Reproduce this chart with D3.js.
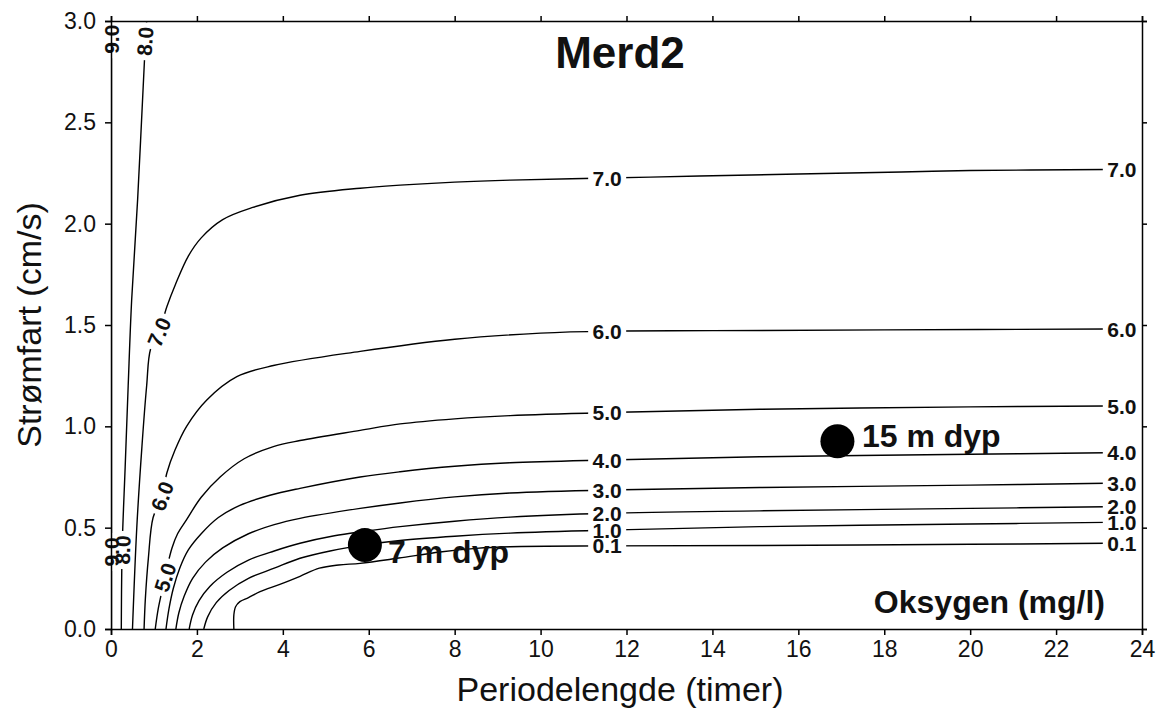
<!DOCTYPE html>
<html>
<head>
<meta charset="utf-8">
<script src="https://cdn.jsdelivr.net/npm/d3@7"></script>
<style>
body { margin: 0; background: #fff; }
text { font-family: "Liberation Sans", Arial, sans-serif; fill: #111; }
</style>
</head>
<body>
<script>
// contour lines, [periodelengde (timer), strømfart (cm/s)]
var c01 = [[2.86,0],[2.86,0.07],[2.9,0.11],[3.0,0.135],[3.2,0.155],[3.47,0.184],[3.93,0.22],[4.4,0.26],[4.85,0.3],[5.3,0.316],[5.8,0.324],[6.7,0.35],[7.66,0.38],[8.5,0.398],[9.29,0.406],[11.55,0.41],[15.1,0.412],[20,0.418],[23.15,0.423]];
var c10 = [[2.16,0],[2.25,0.06],[2.45,0.13],[2.75,0.19],[3.2,0.25],[3.8,0.3],[4.4,0.349],[5.1,0.385],[5.9,0.415],[6.73,0.437],[8,0.458],[9.29,0.473],[11.55,0.488],[15.1,0.505],[20,0.518],[23.15,0.526]];
var c20 = [[1.82,0],[1.9,0.07],[2.05,0.14],[2.3,0.21],[2.7,0.28],[3.2,0.34],[3.8,0.385],[4.4,0.423],[5.2,0.46],[5.9,0.482],[6.73,0.505],[8,0.532],[9.29,0.552],[11.55,0.571],[15.1,0.583],[20,0.595],[23.15,0.603]];
var c30 = [[1.51,0],[1.58,0.08],[1.7,0.16],[1.9,0.25],[2.2,0.33],[2.6,0.4],[3.2,0.47],[3.8,0.515],[4.4,0.546],[5.8,0.595],[6.73,0.622],[8,0.652],[9.29,0.671],[11.55,0.686],[15.1,0.698],[20,0.71],[23.15,0.719]];
var c40 = [[1.28,0],[1.35,0.1],[1.45,0.2],[1.6,0.3],[1.8,0.39],[2.1,0.47],[2.5,0.55],[3.0,0.61],[3.7,0.66],[4.4,0.694],[5.8,0.75],[6.73,0.776],[8,0.803],[9.29,0.82],[11.55,0.834],[15.1,0.85],[20,0.862],[23.15,0.87]];
var c50 = [[1.03,0],[1.1,0.1],[1.2,0.2],[1.3,0.3],[1.42,0.4],[1.55,0.47],[1.76,0.54],[2.1,0.65],[2.54,0.75],[3.1,0.84],[3.78,0.9],[4.4,0.93],[5.8,0.98],[6.73,1.012],[8,1.037],[9.29,1.053],[11.55,1.068],[15.1,1.084],[20,1.096],[23.15,1.1]];
var c60 = [[0.77,0],[0.8,0.15],[0.87,0.35],[0.98,0.55],[1.19,0.656],[1.3,0.77],[1.49,0.883],[1.76,1.0],[2.23,1.13],[2.93,1.245],[3.78,1.3],[5.8,1.37],[8,1.43],[10,1.46],[11.55,1.47],[14,1.472],[18,1.476],[23.15,1.48]];
var c70 = [[0.5,0],[0.6,0.5],[0.72,0.9],[0.83,1.2],[0.92,1.38],[1.12,1.465],[1.3,1.59],[1.5,1.7],[1.8,1.84],[2.1,1.93],[2.6,2.02],[3.3,2.08],[4.4,2.14],[5.8,2.175],[6.73,2.19],[8,2.205],[9.3,2.215],[11.55,2.225],[13.7,2.235],[16,2.245],[18.4,2.255],[20,2.262],[23.15,2.267]];
var c80 = [[0.24,0],[0.26,0.4],[0.33,0.8],[0.4,1.2],[0.48,1.62],[0.62,2.12],[0.78,2.81],[0.83,3.0]];
var c90 = [[0.01,0],[0.01,3.0]];

var levels = ["0.1","1.0","2.0","3.0","4.0","5.0","6.0","7.0","8.0","9.0"];
var contours = [c01, c10, c20, c30, c40, c50, c60, c70, c80, c90];

// labels sitting in the flat part of the lines
var midLabelX = 11.55, rightLabelX = 23.53;
var flatLevels = ["0.1","1.0","2.0","3.0","4.0","5.0","6.0","7.0"];
// labels on the steep part: [level, x, y, angle]
var steepLabels = [["7.0",1.12,1.465,-67],["6.0",1.19,0.656,-69],["5.0",1.26,0.255,-72],
                   ["9.0",0.0,0.38,-90],["8.0",0.27,0.39,-88],["9.0",0.0,2.91,-90],["8.0",0.79,2.9,-86]];

var xTicks = [0,2,4,6,8,10,12,14,16,18,20,22,24];
var yTicks = [0,0.5,1.0,1.5,2.0,2.5,3.0];

// measuring points
var sites = [[5.91,0.414],[16.91,0.926]];
var siteNames = ["7 m dyp","15 m dyp"];
var siteNameAt = [[6.45,0.325],[17.48,0.896]];

var w = 1160, h = 720;
var x = d3.scaleLinear().domain([0,24]).range([111,1142]);
var y = d3.scaleLinear().domain([0,3]).range([629,21]);

var svg = d3.select("body").append("svg")
    .attr("width", w)
    .attr("height", h)
    .style("background", "#fff");

function yAt(pts, xv){
    for (var i = 1; i < pts.length; i++){
        if (pts[i][0] >= xv){
            var a = pts[i-1], b = pts[i];
            return a[1] + (b[1]-a[1]) * (xv-a[0]) / (b[0]-a[0]);
        }
    }
    return pts[pts.length-1][1];
}

// all contour labels in one list: level, px, py, angle
var labels = [];
flatLevels.forEach(function(l){
    var pts = contours[levels.indexOf(l)];
    labels.push([l, x(midLabelX), y(yAt(pts, midLabelX)), 0]);
    labels.push([l, x(rightLabelX), y(pts[pts.length-1][1]), 0]);
});
steepLabels.forEach(function(s){
    labels.push([s[0], x(s[1]), y(s[2]), s[3]]);
});

var defs = svg.append("defs");
defs.append("clipPath").attr("id", "plot")
  .append("rect")
    .attr("x", x(0)).attr("y", y(3))
    .attr("width", x(24)-x(0)).attr("height", y(0)-y(3));

// gaps in the lines where the labels go
var mask = defs.append("mask").attr("id", "gaps");
mask.append("rect").attr("width", w).attr("height", h).style("fill", "#fff");
mask.selectAll("rect.gap")
    .data(labels)
  .enter().append("rect")
    .attr("class", "gap")
    .attr("x", -19).attr("y", -9)
    .attr("width", 38).attr("height", 18)
    .attr("transform", function(d){ return "translate(" + d[1] + "," + d[2] + ") rotate(" + d[3] + ")"; })
    .style("fill", "#000");

var line = d3.line()
    .x(function(d){ return x(d[0]); })
    .y(function(d){ return y(d[1]); })
    .curve(d3.curveCatmullRom.alpha(0.5));

svg.append("g")
    .attr("clip-path", "url(#plot)")
  .append("g")
    .attr("mask", "url(#gaps)")
  .selectAll("path")
    .data(contours)
  .enter().append("path")
    .attr("d", line)
    .style("fill", "none")
    .style("stroke", "#000")
    .style("stroke-width", 1.4);

svg.append("g").selectAll("text")
    .data(labels)
  .enter().append("text")
    .attr("transform", function(d){ return "translate(" + d[1] + "," + d[2] + ") rotate(" + d[3] + ")"; })
    .attr("text-anchor", "middle")
    .attr("dy", "0.36em")
    .style("font-size", "21px")
    .style("font-weight", "bold")
    .text(function(d){ return d[0]; });

// axes
svg.append("g")
    .attr("transform", "translate(0," + y(0) + ")")
    .call(d3.axisBottom(x).tickValues(xTicks).tickFormat(d3.format("d")).tickSizeOuter(0).tickSize(6).tickPadding(6));
svg.append("g")
    .attr("transform", "translate(" + x(0) + ",0)")
    .call(d3.axisLeft(y).tickValues(yTicks).tickFormat(d3.format(".1f")).tickSizeOuter(0).tickSize(6).tickPadding(9));
svg.append("g")
    .attr("transform", "translate(0," + y(3) + ")")
    .call(d3.axisTop(x).tickValues(xTicks).tickFormat("").tickSizeOuter(0).tickSize(5));
svg.append("g")
    .attr("transform", "translate(" + x(24) + ",0)")
    .call(d3.axisRight(y).tickValues(yTicks).tickFormat("").tickSizeOuter(0).tickSize(5));

svg.selectAll(".domain, .tick line").style("stroke", "#000").style("stroke-width", 1.5);
svg.selectAll(".tick text").style("font-size", "23px").style("fill", "#111");

// measuring points
svg.append("g").selectAll("circle")
    .data(sites)
  .enter().append("circle")
    .attr("cx", function(d){ return x(d[0]); })
    .attr("cy", function(d){ return y(d[1]); })
    .attr("r", 17)
    .style("fill", "#000");

svg.append("g").selectAll("text")
    .data(siteNameAt)
  .enter().append("text")
    .attr("x", function(d){ return x(d[0]); })
    .attr("y", function(d){ return y(d[1]); })
    .style("font-size", "32px")
    .style("font-weight", "bold")
    .text(function(d, i){ return siteNames[i]; });

// titles
svg.append("text")
    .attr("x", 620).attr("y", 68)
    .attr("text-anchor", "middle")
    .style("font-size", "44px")
    .style("font-weight", "bold")
    .text("Merd2");

svg.append("text")
    .attr("x", 1105).attr("y", 613)
    .attr("text-anchor", "end")
    .style("font-size", "32px")
    .style("font-weight", "bold")
    .text("Oksygen (mg/l)");

svg.append("text")
    .attr("x", 620).attr("y", 701)
    .attr("text-anchor", "middle")
    .style("font-size", "34px")
    .text("Periodelengde (timer)");

svg.append("text")
    .attr("transform", "translate(41,325) rotate(-90)")
    .attr("text-anchor", "middle")
    .style("font-size", "34px")
    .text("Strømfart (cm/s)");
</script>
</body>
</html>
